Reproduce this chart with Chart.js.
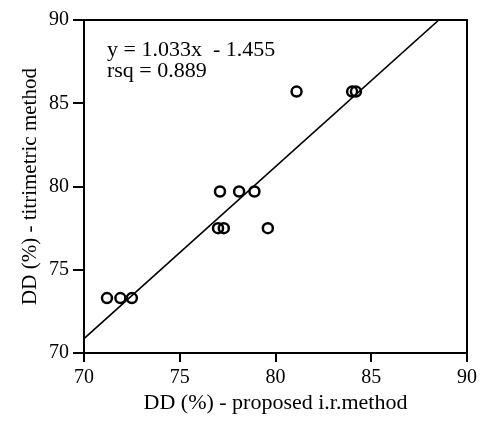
<!DOCTYPE html>
<html>
<head>
<meta charset="utf-8">
<script src="https://cdn.jsdelivr.net/npm/chart.js@4.4.0/dist/chart.umd.min.js"></script>
<style>
  html, body { margin: 0; padding: 0; background: #fff; }
  #wrap { width: 483px; height: 421px; }
</style>
</head>
<body>
<div id="wrap"><canvas id="canvas" width="483" height="421"></canvas></div>
<script>
// values
let irMethod = [71.2, 71.9, 72.5, 77.0, 77.3, 79.6, 77.1, 78.1, 78.9, 81.1, 84.0, 84.2];
let titrimetric = [73.3, 73.3, 73.3, 77.5, 77.5, 77.5, 79.7, 79.7, 79.7, 85.7, 85.7, 85.7];
let fitX = [70, 88.53];
let fitY = [70.86, 90];
let xTicks = [70, 75, 80, 85, 90];
let yTicks = [70, 75, 80, 85, 90];
let notes = ['y = 1.033x  - 1.455', 'rsq = 0.889'];

const serif = '"Liberation Serif", "Times New Roman", serif';

let puntos = irMethod.map((x, i) => ({x: x, y: titrimetric[i]}));
let recta = fitX.map((x, i) => ({x: x, y: fitY[i]}));

// frame on top/right plus the equation text
const extras = {
  id: 'extras',
  afterDraw(chart) {
    const ctx = chart.ctx;
    const a = chart.chartArea;
    ctx.save();
    ctx.strokeStyle = '#000';
    ctx.lineWidth = 2;
    ctx.strokeRect(a.left, a.top, a.right - a.left, a.bottom - a.top);
    ctx.fillStyle = '#000';
    ctx.font = '22px ' + serif;
    ctx.textBaseline = 'middle';
    const xs = chart.scales.x, ys = chart.scales.y;
    ctx.fillText(notes[0], xs.getPixelForValue(71.2), ys.getPixelForValue(88.2));
    ctx.fillText(notes[1], xs.getPixelForValue(71.2), ys.getPixelForValue(86.9));
    ctx.restore();
  }
};

new Chart(document.getElementById('canvas'), {
  type: 'scatter',
  data: {
    datasets: [{
      type: 'line',
      data: recta,
      borderColor: '#000',
      borderWidth: 1.6,
      pointRadius: 0,
      fill: false
    }, {
      data: puntos,
      pointStyle: 'circle',
      pointRadius: 5,
      borderColor: '#000',
      backgroundColor: 'rgba(0,0,0,0)',
      borderWidth: 2.5
    }]
  },
  options: {
    responsive: false,
    animation: false,
    layout: { padding: { top: 20, right: 16, left: 0, bottom: 0 } },
    plugins: { legend: { display: false }, tooltip: { enabled: false } },
    scales: {
      x: {
        type: 'linear', min: 70, max: 90,
        afterBuildTicks: s => { s.ticks = xTicks.map(v => ({value: v})); },
        afterFit: s => { s.height = 68; },
        border: { display: true, color: '#000', width: 2 },
        grid: { drawOnChartArea: false, drawTicks: true, tickLength: 9, color: '#000', lineWidth: 2 },
        ticks: { color: '#000', padding: 4, maxRotation: 0, font: { family: serif, size: 20 } },
        title: { display: true, text: 'DD (%) - proposed i.r.method', color: '#000',
                 padding: { top: 0, bottom: 5 }, font: { family: serif, size: 22 } }
      },
      y: {
        type: 'linear', min: 70, max: 90,
        afterBuildTicks: s => { s.ticks = yTicks.map(v => ({value: v})); },
        afterFit: s => { s.width = 84; },
        border: { display: true, color: '#000', width: 2 },
        grid: { drawOnChartArea: false, drawTicks: true, tickLength: 11, color: '#000', lineWidth: 2 },
        ticks: { color: '#000', padding: 4, font: { family: serif, size: 20 } },
        title: { display: true, text: 'DD (%) - titrimetric method', color: '#000',
                 padding: { top: 18, bottom: 0 }, font: { family: serif, size: 21 } }
      }
    }
  },
  plugins: [extras]
});
</script>
</body>
</html>
